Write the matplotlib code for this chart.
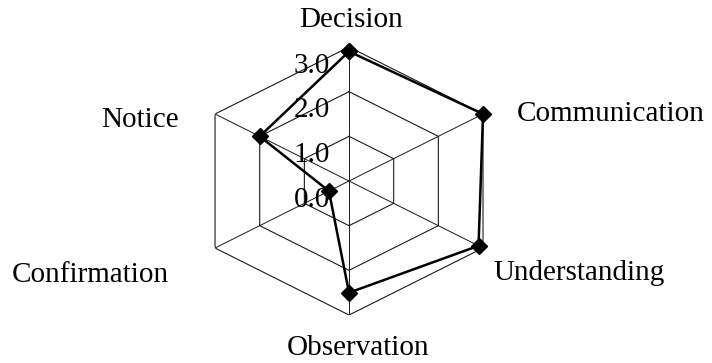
"""Radar chart of the six skill scores"""

import numpy as np
import matplotlib.pyplot as plt

# Categories clockwise from the top, and the scores
categories = ["Decision", "Communication", "Understanding",
              "Observation", "Confirmation", "Notice"]
scores = [2.9, 3.0, 2.9, 2.5, 0.45, 2.0]
ring_levels = [1.0, 2.0, 3.0]
tick_values = [0.0, 1.0, 2.0, 3.0]
tick_labels = ["0.0", "1.0", "2.0", "3.0"]

plt.rcParams["font.family"] = ["Liberation Serif", "DejaVu Serif"]

n = len(categories)
angles = np.linspace(0, 2 * np.pi, n, endpoint=False)
closed_angles = np.append(angles, angles[0])

fig = plt.figure(figsize=(7.12, 3.63), dpi=100)
ax = fig.add_axes([0.2729, 0.1322, 0.4346, 0.7383], projection="polar")
ax.set_aspect("auto")
ax.set_theta_zero_location("N")
ax.set_theta_direction(-1)
ax.set_ylim(0, 3.0)
ax.grid(False)
ax.spines["polar"].set_visible(False)
ax.set_xticks([])
ax.set_yticks([])
ax.patch.set_visible(False)

# hexagon rings and spokes
for level in ring_levels:
    ax.plot(closed_angles, [level] * (n + 1), color="#1a1a1a", lw=0.8, zorder=1)
for a in angles:
    ax.plot([a, a], [0, ring_levels[-1]], color="#1a1a1a", lw=0.7, zorder=1)

# the data
ax.plot(closed_angles, scores + scores[:1], color="black", lw=1.8,
        marker="D", markersize=8, markerfacecolor="black",
        markeredgecolor="black", zorder=3, clip_on=False)

# value labels along the top spoke
for v, lab in zip(tick_values, tick_labels):
    ax.annotate(lab, xy=(0, v), xytext=(-13.5, -13.5), textcoords="offset points",
                ha="right", va="center", fontsize=21, annotation_clip=False)

# category labels
label_offsets = [(1.5, 14.4, "center"), (24.5, -5, "left"), (7.2, -23, "left"),
                 (6.5, -28.8, "center"), (-33, -24.5, "right"), (-26, -9.4, "right")]
for a, name, (dx, dy, ha) in zip(angles, categories, label_offsets):
    ax.annotate(name, xy=(a, ring_levels[-1]), xytext=(dx, dy),
                textcoords="offset points", ha=ha, va="baseline",
                fontsize=21, annotation_clip=False)

fig.savefig("out.png", dpi=100)
